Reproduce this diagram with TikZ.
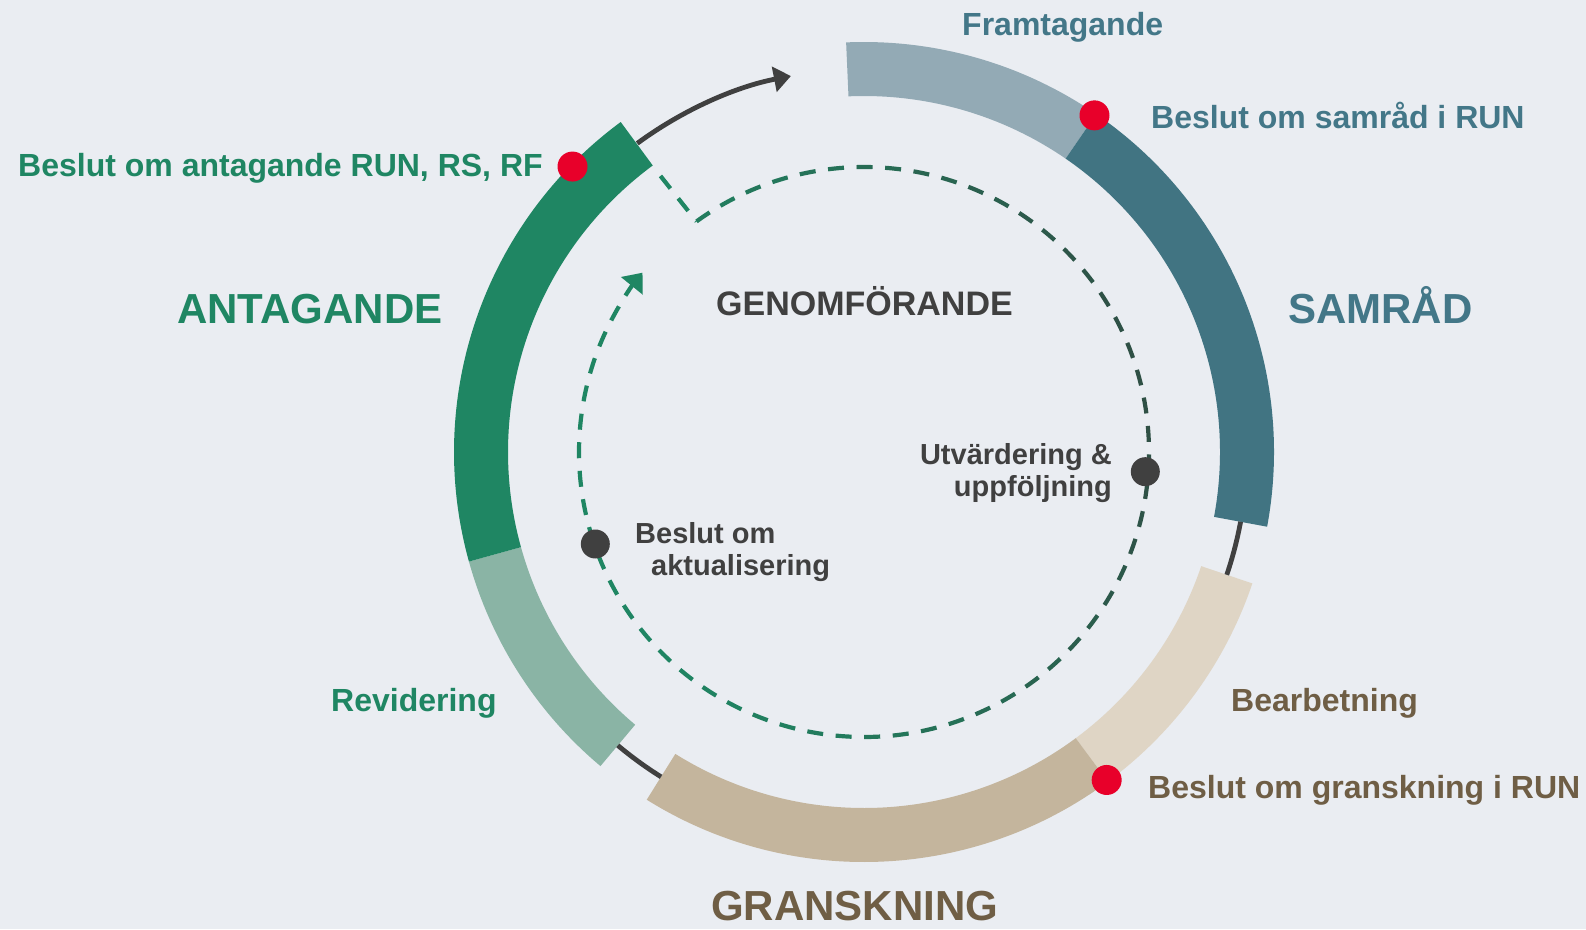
\documentclass[tikz,border=0pt]{standalone}
\usepackage{fontspec}
\setmainfont{Liberation Sans}
\usetikzlibrary{arrows.meta}
\definecolor{bgcol}{HTML}{EAEDF2}
\definecolor{framcol}{HTML}{93AAB5}
\definecolor{samcol}{HTML}{417482}
\definecolor{bearcol}{HTML}{DFD5C5}
\definecolor{grancol}{HTML}{C4B59D}
\definecolor{revcol}{HTML}{8AB4A5}
\definecolor{antcol}{HTML}{1F8663}
\definecolor{redcol}{HTML}{E8002A}
\definecolor{darkcol}{HTML}{404040}
\definecolor{dashdark}{HTML}{2F4F45}
\definecolor{samtext}{HTML}{437788}
\definecolor{brntext}{HTML}{6F5E45}
\tikzset{
  lbl/.style={font=\bfseries\fontsize{32}{38}\selectfont, anchor=base west, inner sep=0pt},
  biglbl/.style={font=\bfseries\fontsize{42}{50}\selectfont, anchor=base west, inner sep=0pt},
  innerlbl/.style={font=\bfseries\fontsize{29}{33}\selectfont, inner sep=0pt, text=darkcol},
  reddot/.style={circle, fill=redcol, minimum size=30pt, inner sep=0pt},
  greydot/.style={circle, fill=darkcol, minimum size=29pt, inner sep=0pt},
  linkline/.style={draw=darkcol, line width=4.8pt},
  dashline/.style={line width=4.2pt, dash pattern=on 16pt off 12.6pt}
}
\newcommand{\ringpart}[3]{\fill[#3] (#1:356) arc[start angle=#1, end angle=#2, radius=356]
  -- (#2:410) arc[start angle=#2, end angle=#1, radius=410] -- cycle;}
\begin{document}
\begin{tikzpicture}[x=1pt, y=1pt]
  \fill[bgcol] (0,0) rectangle (1586,-929);
  \useasboundingbox (0,0) rectangle (1586,-929);
  \begin{scope}[shift={(864,-452)}]
    \ringpart{92.5}{55.5}{framcol}
    \ringpart{55.5}{-10.5}{samcol}
    \ringpart{-18.7}{-53.5}{bearcol}
    \ringpart{-53.5}{-122}{grancol}
    \ringpart{-130}{-164.5}{revcol}
    \ringpart{195.5}{126.4}{antcol}
    \coordinate (samend) at (-10.5:383);
    \coordinate (granend) at (-122:383);
    \coordinate (antend) at (126.3:383);
    \coordinate (antin) at (126.4:343);
    \coordinate (loopstart) at (126:285);
    \draw[linkline] (samend) arc[start angle=-10.5, end angle=-18.7, radius=383];
    \draw[linkline] (granend) arc[start angle=-122, end angle=-130, radius=383];
    \draw[linkline, -{Triangle[length=17pt, width=25pt]}] (antend)
      arc[start angle=126.3, end angle=101, radius=383];
    \draw[dashline, draw=antcol] (antin) -- (loopstart);
    \foreach \i in {0,...,28}{
      \pgfmathsetmacro{\sa}{126-11.5*\i}
      \pgfmathsetmacro{\ea}{\sa-11.5}
      \pgfmathtruncatemacro{\mix}{100*((1+cos(\sa-15.75))/2)^1.5}
      \draw[dashline, draw=dashdark!\mix!antcol] (\sa:285) arc[start angle=\sa, end angle=\ea, radius=285];
    }
    \draw[dashline, draw=antcol, -{Triangle[length=17pt, width=27pt]}] (-207.5:285)
      arc[start angle=-207.5, end angle=-219, radius=285];
    \node[reddot] (antdot) at (135.6:408) {};
    \node[reddot] (samdot) at (55.6:408) {};
    \node[reddot] (grandot) at (-53.5:408) {};
    \node[greydot] (utvdot) at (-4:282) {};
    \node[greydot] (aktdot) at (198.9:284) {};
  \end{scope}
  \node[lbl, text=samtext] (fram) at (962,-35) {Framtagande};
  \node[lbl, text=samtext] (samlbl) at (1151,-128) {Beslut om samråd i RUN};
  \node[biglbl, text=samtext] (sam) at (1288,-323) {SAMRÅD};
  \node[lbl, text=brntext] (bear) at (1231,-711) {Bearbetning};
  \node[lbl, text=brntext] (granlbl) at (1148,-798) {Beslut om granskning i RUN};
  \node[biglbl, text=brntext] (gran) at (711,-920) {GRANSKNING};
  \node[lbl, text=antcol] (rev) at (331,-711) {Revidering};
  \node[biglbl, text=antcol] (ant) at (177,-323) {ANTAGANDE};
  \node[lbl, text=antcol] (antlbl) at (18,-176) {Beslut om antagande RUN, RS, RF};
  \node[font=\bfseries\fontsize{34}{40}\selectfont, anchor=base west, inner sep=0pt, text=darkcol]
    (genom) at (716,-315) {GENOMFÖRANDE};
  \node[innerlbl, anchor=base east] (utv1) at (1112,-464) {Utvärdering \&};
  \node[innerlbl, anchor=base east] (utv2) at (1112,-496) {uppföljning};
  \node[innerlbl, anchor=base west] (akt1) at (635,-543) {Beslut om};
  \node[innerlbl, anchor=base west] (akt2) at (651,-575) {aktualisering};
\end{tikzpicture}
\end{document}
